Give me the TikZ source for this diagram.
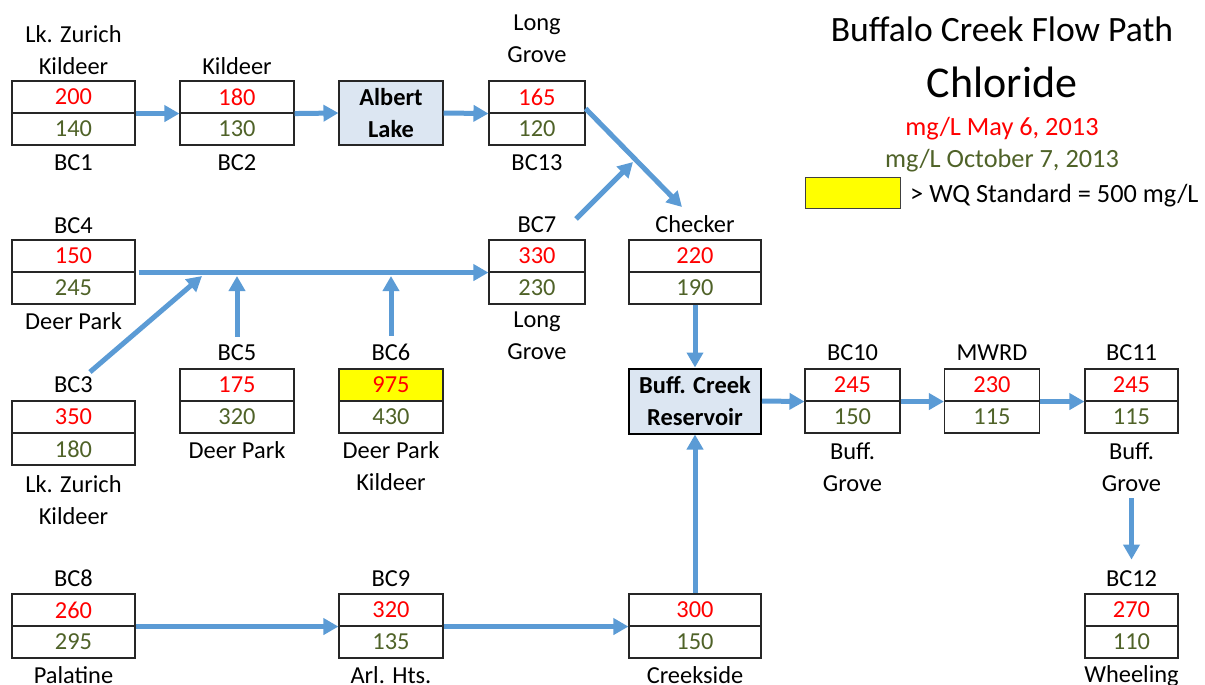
\documentclass[tikz,border=0pt]{standalone}
\usepackage{fontspec}
\setmainfont{Carlito}
\usetikzlibrary{arrows.meta,calc}
\definecolor{vred}{HTML}{FF0000}
\definecolor{vgreen}{HTML}{4F6228}
\definecolor{flowblue}{HTML}{5B9BD5}
\definecolor{lakefill}{HTML}{DCE6F2}
\definecolor{wqyellow}{HTML}{FFFF00}
\tikzset{
  cell/.style={draw=black!85, line width=1.1pt, minimum height=32pt, inner sep=0pt, font=\fontsize{24.4}{32}\selectfont},
  redcell/.style={cell, text=vred},
  greencell/.style={cell, text=vgreen},
  lbl/.style={inner sep=0pt, align=center, font=\fontsize{24.4}{32}\selectfont},
  flow/.style={draw=flowblue, line width=5pt, -{Triangle[length=15pt,width=16pt]}},
  lakebox/.style={draw=black!85, line width=1.1pt, fill=lakefill, inner sep=0pt, align=center, font=\fontsize{24.4}{32}\selectfont\bfseries},
}
\newcommand\station[6]{%
  \node[redcell, minimum width=#4pt] (#1t) at (#2,#3+16) {#5};
  \node[greencell, minimum width=#4pt] (#1b) at (#2,#3+48) {#6};}
\begin{document}
\begin{tikzpicture}[x=1pt,y=-1pt]
\useasboundingbox (0,0) rectangle (1205,685);
% ---------- stations ----------
\station{bc1}{73.5}{81}{123}{200}{140}
\station{bc2}{237}{81}{114}{180}{130}
\node[lakebox, minimum width=104pt, minimum height=64pt] (albert) at (391,113) {Albert\\Lake};
\station{bc13}{537}{81}{96}{165}{120}
\station{bc4}{73.5}{240}{123}{150}{245}
\station{bc7}{537}{240}{96}{330}{230}
\station{chk}{695}{240}{132}{220}{190}
\station{bc3}{73.5}{401}{123}{350}{180}
\station{bc5}{237}{369}{114}{175}{320}
\node[redcell, fill=wqyellow, minimum width=104pt] (bc6t) at (391,385) {975};
\node[greencell, minimum width=104pt] (bc6b) at (391,417) {430};
\node[lakebox, line width=2pt, draw=black, minimum width=132pt, minimum height=65pt] (res) at (695,401) {Buff. Creek\\Reservoir};
\station{bc10}{852.5}{369}{95}{245}{150}
\station{mwrd}{992}{369}{95}{230}{115}
\station{bc11}{1131.5}{369}{93}{245}{115}
\station{bc12}{1131.5}{594}{93}{270}{110}
\station{bc8}{73.5}{594}{123}{260}{295}
\station{bc9}{391}{594}{104}{320}{135}
\station{crk}{695}{594}{132}{300}{150}
% ---------- labels above ----------
\node[lbl, anchor=south] (bc1l) at (73.5,75) {Lk. Zurich\\Kildeer};
\node[lbl, anchor=south] (bc2l) at (237,75) {Kildeer};
\node[lbl, anchor=south] (bc13l) at (537,63) {Long\\Grove};
\node[lbl, anchor=south] (bc4l) at (73.5,234) {BC4};
\node[lbl, anchor=south] (bc7l) at (537,233) {BC7};
\node[lbl, anchor=south] (chkl) at (695,233) {Checker};
\node[lbl, anchor=south] (bc3l) at (73.5,393) {BC3};
\node[lbl, anchor=south] (bc5l) at (237,361) {BC5};
\node[lbl, anchor=south] (bc6l) at (391,361) {BC6};
\node[lbl, anchor=south] (bc10l) at (852.5,361) {BC10};
\node[lbl, anchor=south] (mwrdl) at (992,361) {MWRD};
\node[lbl, anchor=south] (bc11l) at (1131.5,361) {BC11};
\node[lbl, anchor=south] (bc12l) at (1131.5,587) {BC12};
\node[lbl, anchor=south] (bc8l) at (73.5,587) {BC8};
\node[lbl, anchor=south] (bc9l) at (391,587) {BC9};
% ---------- labels below ----------
\node[lbl, anchor=north] (bc1n) at (73.5,154) {BC1};
\node[lbl, anchor=north] (bc2n) at (237,154) {BC2};
\node[lbl, anchor=north] (bc13n) at (537,154) {BC13};
\node[lbl, anchor=north] (bc4n) at (73.5,312) {Deer Park};
\node[lbl, anchor=north] (bc7n) at (537,312) {Long\\Grove};
\node[lbl, anchor=north] (bc3n) at (73.5,475) {Lk. Zurich\\Kildeer};
\node[lbl, anchor=north] (bc5n) at (237,441) {Deer Park};
\node[lbl, anchor=north] (bc6n) at (391,441) {Deer Park\\Kildeer};
\node[lbl, anchor=north] (bc10n) at (852.5,442) {Buff.\\Grove};
\node[lbl, anchor=north] (bc11n) at (1131.5,442) {Buff.\\Grove};
\node[lbl, anchor=north] (bc8n) at (73.5,666) {Palatine};
\node[lbl, anchor=north] (bc9n) at (391,666) {Arl. Hts.};
\node[lbl, anchor=north] (crkn) at (695,666) {Creekside};
\node[lbl, anchor=north] (bc12n) at (1131.5,665) {Wheeling};
% ---------- legend ----------
\node[anchor=base, inner sep=0pt, font=\fontsize{35.6}{40}\selectfont] (title) at (1002,42) {Buffalo Creek Flow Path};
\node[anchor=base, inner sep=0pt, font=\fontsize{44}{50}\selectfont] (chl) at (1002,97) {Chloride};
\node[anchor=base, inner sep=0pt, text=vred, font=\fontsize{26.3}{30}\selectfont] (may) at (1002,135) {mg/L May 6, 2013};
\node[anchor=base, inner sep=0pt, text=vgreen, font=\fontsize{26.3}{30}\selectfont] (oct) at (1002,167) {mg/L October 7, 2013};
\node[draw=black!75, line width=1pt, fill=wqyellow, minimum width=95pt, minimum height=31pt, inner sep=0pt] (wq) at (852.5,192.5) {};
\node[anchor=base west, inner sep=0pt, font=\fontsize{26.3}{30}\selectfont] (wqtxt) at (910,202) {> WQ Standard = 500 mg/L};
% ---------- connectors ----------
\coordinate (chkin) at (682,207);
\coordinate (j1) at (633,162);
\coordinate (bc7out) at (576,219);
\coordinate (bc3out) at (90,372);
\coordinate (j2) at (202,276);
\draw[flow] (bc1t.south east) -- (bc2t.south west);
\draw[flow] (bc2t.south east) -- (albert.west);
\draw[flow] (albert.east) -- (bc13t.south west);
\draw[flow] ([yshift=5pt]bc13t.south east) -- (chkin);
\draw[flow] (bc7out) -- (j1);
\draw[flow] ([xshift=3pt]bc4t.south east) -- (bc7t.south west);
\draw[flow] (bc3out) -- (j2);
\draw[flow] ([yshift=8pt]bc5l.north) -- (bc5l.north |- j2);
\draw[flow] ([yshift=8pt]bc6l.north) -- (bc6l.north |- j2);
\draw[flow] (chkb.south) -- (res.north);
\draw[flow] (crkt.north) -- (res.south);
\draw[flow] (res.east) -- (bc10t.south west);
\draw[flow] (bc10t.south east) -- (mwrdt.south west);
\draw[flow] (mwrdt.south east) -- (bc11t.south west);
\draw[flow] ([yshift=-7pt]bc11n.south) -- ([yshift=11pt]bc12l.north);
\draw[flow] (bc8t.south east) -- (bc9t.south west);
\draw[flow] (bc9t.south east) -- (crkt.south west);
\end{tikzpicture}
\end{document}
